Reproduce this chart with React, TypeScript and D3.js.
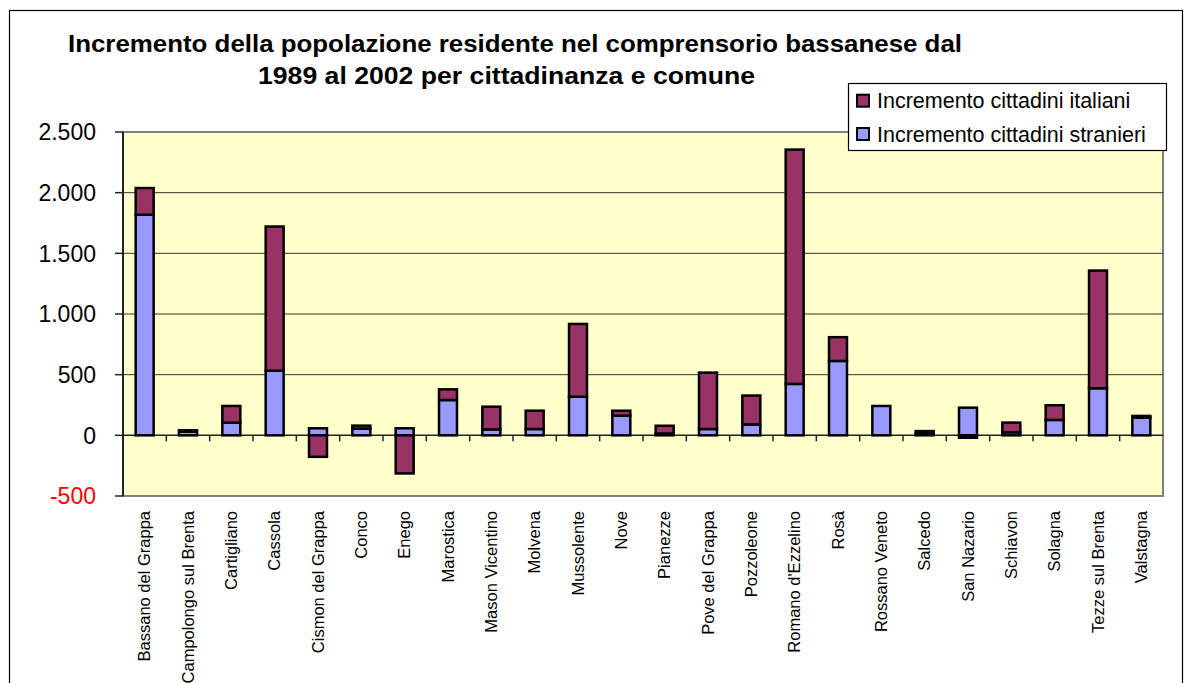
import React from "react";
import * as d3 from "d3";

const categories = [
  "Bassano del Grappa", "Campolongo sul Brenta", "Cartigliano", "Cassola",
  "Cismon del Grappa", "Conco", "Enego", "Marostica", "Mason Vicentino",
  "Molvena", "Mussolente", "Nove", "Pianezze", "Pove del Grappa",
  "Pozzoleone", "Romano d'Ezzelino", "Rosà", "Rossano Veneto", "Salcedo",
  "San Nazario", "Schiavon", "Solagna", "Tezze sul Brenta", "Valstagna",
];
const stranieri = [1818, 30, 104, 533, 58, 55, 58, 291, 49, 52, 318, 162, 15, 52, 90, 424, 613, 242, 15, 228, 25, 127, 388, 145];
const italiani = [220, 12, 138, 1188, -177, 25, -314, 88, 187, 151, 600, 41, 64, 465, 238, 1931, 196, 0, 20, -20, 80, 121, 970, 15];
const yTicks = [-500, 0, 500, 1000, 1500, 2000, 2500];
const seriesNames = ["Incremento cittadini italiani", "Incremento cittadini stranieri"];
const titleLines = [
  "Incremento della popolazione residente nel comprensorio bassanese dal",
  "1989 al 2002 per cittadinanza e comune",
];

const FONT = "'Liberation Sans', Arial, Helvetica, sans-serif";
const C_STR = "#9999FF";
const C_ITA = "#993366";

export default function App() {
  const left = 123, right = 1163, top = 132, bottom = 496;
  const y = d3.scaleLinear().domain([-500, 2500]).range([bottom, top]);
  const x = d3.scaleBand<string>().domain(categories).range([left, right]).paddingInner(0.585).paddingOuter(0.2925);
  const bw = x.bandwidth();
  const idx = d3.scaleLinear().domain([0, categories.length]).range([left, right]);
  const fmt = (v: number) => {
    const s = d3.format(",")(v).replace(/,/g, ".");
    return s.replace("−", "-");
  };
  const y0 = y(0);

  const segs: { x: number; y: number; h: number; fill: string }[] = [];
  categories.forEach((c, i) => {
    let pos = 0, neg = 0;
    const parts = [
      { v: stranieri[i], fill: C_STR },
      { v: italiani[i], fill: C_ITA },
    ];
    parts.forEach((p) => {
      if (p.v === 0) return;
      if (p.v > 0) {
        const a = y(pos), b = y(pos + p.v);
        segs.push({ x: x(c)!, y: b, h: a - b, fill: p.fill });
        pos += p.v;
      } else {
        const a = y(neg), b = y(neg + p.v);
        segs.push({ x: x(c)!, y: a, h: b - a, fill: p.fill });
        neg += p.v;
      }
    });
  });

  return (
    <svg width={1191} height={683} style={{ position: "absolute", left: 0, top: 0, background: "#fff" }} fontFamily={FONT}>
      {/* chart border */}
      <rect x={9.5} y={10.5} width={1173} height={700} fill="#fff" stroke="#000" strokeWidth={1.2} />
      {/* title */}
      <text x={515} y={52} textAnchor="middle" fontSize={24} fontWeight="bold" textLength={894} lengthAdjust="spacingAndGlyphs">{titleLines[0]}</text>
      <text x={506.5} y={84} textAnchor="middle" fontSize={24} fontWeight="bold" textLength={497} lengthAdjust="spacingAndGlyphs">{titleLines[1]}</text>

      {/* plot area */}
      <rect x={left} y={top} width={right - left} height={bottom - top} fill="#FFFFCC" stroke="#808080" strokeWidth={2} />
      {yTicks.filter((t) => t !== 0 && t !== -500 && t !== 2500).map((t) => (
        <line key={t} x1={left} x2={right} y1={y(t)} y2={y(t)} stroke="#333" strokeWidth={1} />
      ))}
      {/* y axis */}
      <line x1={left} x2={left} y1={top} y2={bottom} stroke="#222" strokeWidth={2} />
      {yTicks.map((t) => (
        <g key={t}>
          <line x1={left - 8} x2={left} y1={y(t)} y2={y(t)} stroke="#222" strokeWidth={1.5} />
          <text x={96} y={y(t)} dy="0.36em" textAnchor="end" fontSize={23} fill={t < 0 ? "#FF0000" : "#000"}>{fmt(t)}</text>
        </g>
      ))}
      {/* zero axis with category ticks */}
      <line x1={left} x2={right} y1={y0} y2={y0} stroke="#222" strokeWidth={1.5} />
      {d3.range(1, categories.length).map((i) => (
        <line key={i} x1={idx(i)} x2={idx(i)} y1={y0} y2={y0 + 6} stroke="#222" strokeWidth={1.5} />
      ))}
      {/* bars */}
      {segs.map((s, i) => (
        <rect key={i} x={s.x} y={s.y} width={bw} height={Math.max(s.h, 0.5)} fill={s.fill} stroke="#000" strokeWidth={2.5} />
      ))}
      {/* x labels */}
      {categories.map((c) => {
        const cx = x(c)! + bw / 2;
        return (
          <text key={c} transform={`translate(${cx},${511}) rotate(-90)`} textAnchor="end" dy="0.35em" fontSize={16.5}>{c}</text>
        );
      })}
      {/* legend */}
      <rect x={848.5} y={83.5} width={318} height={67} fill="#fff" stroke="#000" strokeWidth={1.2} />
      {[C_ITA, C_STR].map((col, i) => {
        const cy = [100.7, 134][i];
        return (
          <g key={i}>
            <rect x={857} y={cy - 6} width={12} height={12} fill={col} stroke="#000" strokeWidth={2} />
            <text x={877} y={cy} dy="0.36em" fontSize={21.5}>{seriesNames[i]}</text>
          </g>
        );
      })}
    </svg>
  );
}
